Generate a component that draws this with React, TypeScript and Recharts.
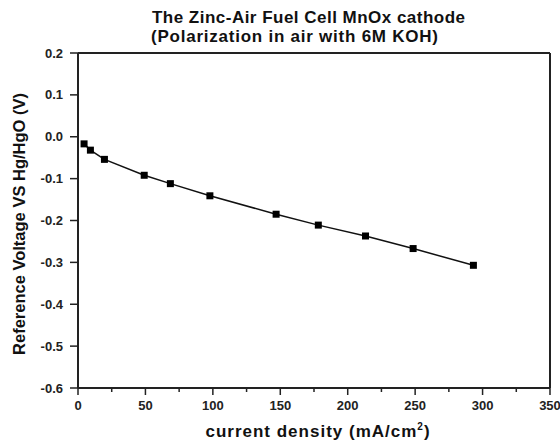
import React from "react";
import { LineChart, Line, XAxis, YAxis, ReferenceLine } from "recharts";

const currentDensity = [4.5, 9.2, 19.6, 49.1, 68.5, 97.8, 146.9, 178.2, 213.2, 248.5, 293.2];
const refVoltage = [-0.017, -0.032, -0.054, -0.092, -0.112, -0.141, -0.185, -0.211, -0.237, -0.267, -0.307];
const xTicks = [0, 25, 50, 75, 100, 125, 150, 175, 200, 225, 250, 275, 300, 325, 350];
const yTicks = [-0.6, -0.5, -0.4, -0.3, -0.2, -0.1, 0, 0.1, 0.2];
const titleLines = ["The Zinc-Air Fuel Cell MnOx cathode", "(Polarization in air with 6M KOH)"];
const yLabel = "Reference Voltage VS Hg/HgO (V)";

const data = currentDensity.map((x, i) => ({ x, y: refVoltage[i] }));

const FONT = "'Liberation Sans', Arial, Helvetica, sans-serif";
const AXIS = "#222";

const XTick = (props: any) => {
  const { x, y, payload } = props;
  const v = payload.value as number;
  const major = v % 50 === 0;
  return (
    <g>
      <line x1={x} x2={x} y1={y} y2={y + (major ? 7 : 4)} stroke={AXIS} strokeWidth={1.5} />
      {major && (
        <text x={x} y={y + 22} textAnchor="middle" fontFamily={FONT} fontWeight="bold" fontSize={13} fill="#222">
          {v}
        </text>
      )}
    </g>
  );
};

const YTick = (props: any) => {
  const { x, y, payload } = props;
  const v = payload.value as number;
  return (
    <g>
      <line x1={x - 8} x2={x} y1={y} y2={y} stroke={AXIS} strokeWidth={1.5} />
      <text x={x - 15} y={y + 4.5} textAnchor="end" fontFamily={FONT} fontWeight="bold" fontSize={13} fill="#222">
        {v.toFixed(1)}
      </text>
    </g>
  );
};

const SquareDot = (props: any) => {
  const { cx, cy, index } = props;
  if (cx == null || cy == null) return <g key={`d${index}`} />;
  return <rect key={`d${index}`} x={cx - 3.5} y={cy - 3.5} width={7} height={7} fill="#000" />;
};

export default function App() {
  return (
    <div style={{ position: "absolute", left: 0, top: 0, width: 560, height: 441, background: "#fff" }}>
      <LineChart
        width={560}
        height={441}
        data={data}
        margin={{ top: 53, right: 10, bottom: 23, left: 18 }}
      >
        <XAxis
          dataKey="x"
          type="number"
          domain={[0, 350]}
          ticks={xTicks}
          interval={0}
          height={30}
          tickLine={false}
          tickSize={0}
          tickMargin={0}
          tick={<XTick />}
          axisLine={{ stroke: AXIS, strokeWidth: 2 }}
        />
        <YAxis
          type="number"
          domain={[-0.6, 0.2]}
          ticks={yTicks}
          interval={0}
          width={60}
          tickLine={false}
          tickSize={0}
          tickMargin={0}
          tick={<YTick />}
          axisLine={{ stroke: AXIS, strokeWidth: 2 }}
        />
        <ReferenceLine y={0.2} stroke={AXIS} strokeWidth={2} />
        <ReferenceLine x={350} stroke={AXIS} strokeWidth={2} />
        <Line
          type="linear"
          dataKey="y"
          stroke="#111"
          strokeWidth={1.5}
          dot={SquareDot}
          activeDot={false}
          isAnimationActive={false}
        />
      </LineChart>
      <svg
        width={560}
        height={441}
        style={{ position: "absolute", left: 0, top: 0, pointerEvents: "none" }}
      >
        <text x={152} y={23} fontFamily={FONT} fontWeight="bold" fontSize={17} fill="#111" textLength={313} lengthAdjust="spacing">
          {titleLines[0]}
        </text>
        <text x={151} y={42} fontFamily={FONT} fontWeight="bold" fontSize={17} fill="#111" textLength={287} lengthAdjust="spacing">
          {titleLines[1]}
        </text>
        <text
          x={25}
          y={224}
          transform="rotate(-90, 25, 224)"
          textAnchor="middle"
          fontFamily={FONT}
          fontWeight="bold"
          fontSize={16.5}
          fill="#111"
        >
          {yLabel}
        </text>
        <text x={318} y={437} textAnchor="middle" fontFamily={FONT} fontWeight="bold" fontSize={17} fill="#111" letterSpacing={1}>
          current density (mA/cm<tspan dy={-7} fontSize={10}>2</tspan><tspan dy={7}>)</tspan>
        </text>
      </svg>
    </div>
  );
}
